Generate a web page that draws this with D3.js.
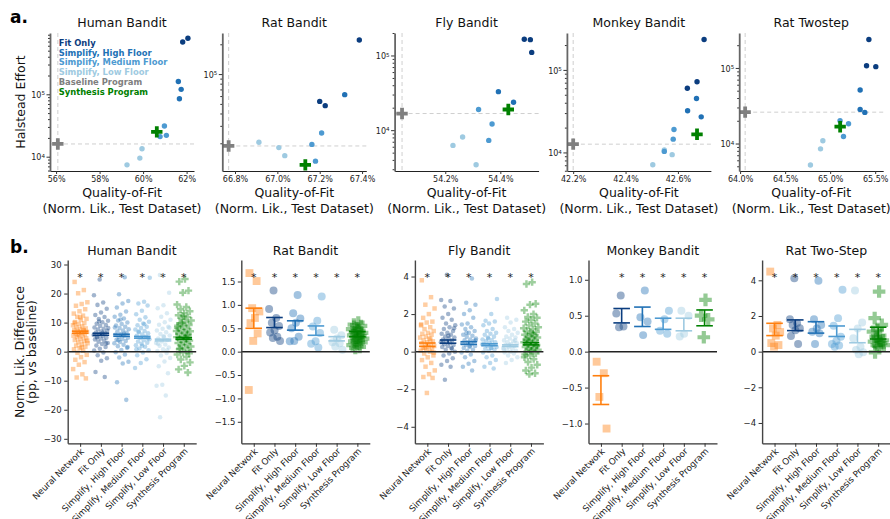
<!DOCTYPE html>
<html>
<head>
<meta charset="utf-8">
<script src="https://cdn.jsdelivr.net/npm/d3@7"></script>
<style>
  body { margin: 0; background: #fff; }
  svg { font-family: "DejaVu Sans", sans-serif; }
</style>
</head>
<body>
<svg id="fig" width="890" height="519"></svg>
<script>
// ---------- panel a: quality-of-fit vs Halstead effort ----------
// rows: [group, quality (%), halstead effort]
const humanEffort = [
  ['fit', 62.06, 790000], ['fit', 61.82, 690000],
  ['high', 61.62, 160000], ['high', 61.75, 120000], ['high', 61.67, 85000],
  ['med', 60.98, 31000], ['med', 61.07, 22000], ['med', 60.78, 21000],
  ['low', 59.95, 13400], ['low', 59.85, 9500], ['low', 59.26, 7400]
];
const ratEffort = [
  ['fit', 67.387, 221000], ['fit', 67.20, 53000], ['fit', 67.226, 48000],
  ['high', 67.318, 62000],
  ['med', 67.209, 25400], ['med', 67.163, 19500], ['med', 67.18, 13200],
  ['low', 66.913, 20500], ['low', 67.007, 18100], ['low', 67.035, 15000]
];
const flyEffort = [
  ['fit', 54.487, 165000], ['fit', 54.509, 163000], ['fit', 54.514, 110000],
  ['high', 54.393, 32800], ['high', 54.448, 23600],
  ['med', 54.321, 18900], ['med', 54.37, 12100], ['med', 54.358, 7300],
  ['low', 54.228, 6250], ['low', 54.263, 8100], ['low', 54.312, 3450]
];
const monkeyEffort = [
  ['fit', 42.70, 234000], ['fit', 42.673, 72000], ['fit', 42.636, 60000],
  ['high', 42.671, 45000], ['high', 42.637, 32000], ['high', 42.689, 27000],
  ['low', 42.504, 7100], ['low', 42.578, 9400], ['low', 42.548, 10700],
  ['med', 42.585, 19000], ['med', 42.582, 14500], ['med', 42.548, 10300]
];
const twostepEffort = [
  ['fit', 65.43, 238000], ['fit', 65.404, 107000], ['fit', 65.507, 104000],
  ['high', 65.333, 51000], ['high', 65.333, 28300], ['high', 65.385, 25800],
  ['med', 65.11, 20000], ['med', 65.204, 18300], ['med', 65.148, 12400],
  ['low', 64.919, 10900], ['low', 64.893, 8500], ['low', 64.781, 5200]
];
// [quality, effort] of the baseline and the synthesis programs
const baselinePrograms = [[56.08, 16000], [66.77, 18800], [54.043, 16700], [42.2, 12600], [64.056, 26000]];
const synthesisPrograms = [[60.63, 25000], [67.132, 12100], [54.429, 18900], [42.673, 16600], [65.111, 16700]];
const topTitles = ['Human Bandit', 'Rat Bandit', 'Fly Bandit', 'Monkey Bandit', 'Rat Twostep'];
const topXDomains = [[55.72, 62.34], [66.74, 67.42], [54.016, 54.539], [42.176, 42.726], [63.99, 65.589]];
const topYDomains = [[5900, 960000], [10500, 260000], [2840, 200000], [5960, 280000], [4330, 290000]];
const topXTicks = [[56, 58, 60, 62], [66.8, 67.0, 67.2, 67.4], [54.2, 54.4], [42.2, 42.4, 42.6], [64.0, 64.5, 65.0, 65.5]];
const topXDecimals = [0, 1, 1, 1, 1];
const legendLabels = ['Fit Only', 'Simplify, High Floor', 'Simplify, Medium Floor', 'Simplify, Low Floor', 'Baseline Program', 'Synthesis Program'];

// ---------- panel b: normalized likelihood difference ----------
const categories = ['Neural Network', 'Fit Only', 'Simplify, High Floor', 'Simplify, Medium Floor', 'Simplify, Low Floor', 'Synthesis Program'];
const bottomTitles = ['Human Bandit', 'Rat Bandit', 'Fly Bandit', 'Monkey Bandit', 'Rat Two-Step'];

const humanDiffs = [
  [24.0, 21.2, 20.1, 17.0, 16.4, 15.8, 14.6, 13.9, 13.1, 12.4, 12.0, 11.3, 10.9, 10.2, 9.8, 9.5, 9.1, 8.7, 8.4, 8.0, 7.8, 7.5, 7.2, 7.0, 6.8, 6.5, 6.3, 6.0, 5.7, 5.5, 5.2, 4.9, 4.6, 4.3, 4.0, 3.6, 3.2, 2.9, 2.5, 2.1, 1.7, 1.2, 0.8, 0.3, -0.4, -1.1, -1.9, -2.8, -3.6, -4.5, -6.0, -7.8, -8.9, -9.2, 11.8, 9.9, 7.4, 5.9, 3.8, 1.5],
  [24.8, 19.4, 16.9, 16.1, 14.8, 13.5, 12.6, 11.9, 11.2, 10.6, 10.1, 9.6, 9.2, 8.8, 8.3, 7.9, 7.6, 7.2, 6.9, 6.6, 6.3, 6.0, 5.7, 5.4, 5.1, 4.8, 4.5, 4.2, 3.8, 3.4, 3.0, 2.6, 2.1, 1.6, 1.0, 0.4, -0.3, -1.2, -2.3, -3.1, -7.0, -8.7, 10.4, 8.1, 6.4, 4.9, 2.8],
  [25.6, 19.8, 17.4, 16.6, 15.2, 13.8, 12.7, 12.0, 11.4, 10.7, 10.0, 9.5, 9.0, 8.6, 8.1, 7.7, 7.3, 6.9, 6.5, 6.1, 5.8, 5.5, 5.1, 4.8, 4.4, 4.1, 3.7, 3.3, 2.9, 2.4, 1.9, 1.3, 0.6, -0.2, -1.0, -2.0, -3.5, -4.1, -10.5, -16.6, 11.1, 8.3, 6.2, 3.9, 1.6],
  [25.4, 17.2, 16.6, 15.9, 14.1, 12.9, 11.8, 11.0, 10.3, 9.7, 9.1, 8.6, 8.1, 7.6, 7.1, 6.7, 6.3, 5.9, 5.5, 5.1, 4.7, 4.3, 3.9, 3.5, 3.1, 2.7, 2.2, 1.7, 1.1, 0.5, -0.3, -1.2, -2.6, -3.9, -5.6, 9.4, 6.9, 4.5, 2.0, 0.8],
  [26.4, 20.3, 16.0, 14.9, 13.2, 12.0, 11.0, 10.1, 9.3, 8.6, 7.9, 7.3, 6.7, 6.1, 5.6, 5.0, 4.5, 4.0, 3.5, 3.0, 2.5, 2.0, 1.4, 0.8, 0.2, -0.5, -1.3, -2.2, -3.4, -5.0, -7.4, -11.4, -11.7, -15.1, -22.6, 8.2, 5.3, 2.7, 0.5],
  [25.0, 24.1, 21.0, 20.3, 16.2, 15.4, 14.6, 13.9, 13.2, 12.5, 11.9, 11.3, 10.7, 10.2, 9.7, 9.2, 8.7, 8.2, 7.8, 7.4, 7.0, 6.6, 6.2, 5.8, 5.4, 5.0, 4.6, 4.2, 3.8, 3.4, 3.0, 2.6, 2.2, 1.8, 1.3, 0.8, 0.3, -0.3, -1.0, -1.8, -2.7, -3.7, -4.9, -6.1, -7.2, 9.9, 7.1, 4.4, 1.1, -0.6, 12.2, 8.9, 5.6]
];
const humanLo = [6.35, 5.65, 5.3, 4.65, 3.7, 4.3];
const humanHi = [7.05, 6.35, 6.0, 5.25, 4.3, 4.9];

const ratDiffs = [
  [1.68, 1.51, 0.93, 0.86, 0.72, 0.61, 0.39, 0.23, -0.82],
  [1.31, 0.91, 0.72, 0.62, 0.55, 0.46, 0.41, 0.32, 0.29, 0.23],
  [1.21, 0.82, 0.71, 0.62, 0.50, 0.32, 0.23, 0.22],
  [1.18, 0.66, 0.54, 0.40, 0.22, 0.17, 0.09],
  [0.47, 0.35, 0.28, 0.20, 0.18, 0.11, 0.04],
  [0.62, 0.58, 0.55, 0.50, 0.48, 0.45, 0.42, 0.40, 0.38, 0.35, 0.33, 0.30, 0.28, 0.25, 0.22, 0.20, 0.17, 0.14, 0.10, 0.08]
];
const ratLo = [0.50, 0.515, 0.46, 0.35, 0.23, 0.32];
const ratHi = [0.93, 0.73, 0.66, 0.55, 0.32, 0.43];

const flyDiffs = [
  [3.8, 2.9, 2.5, 2.3, 2.0, 1.8, 1.6, 1.55, 1.4, 1.3, 1.2, 1.1, 1.0, 0.95, 0.9, 0.8, 0.75, 0.7, 0.6, 0.55, 0.5, 0.45, 0.4, 0.35, 0.3, 0.25, 0.2, 0.15, 0.1, 0.05, 0.0, -0.1, -0.2, -0.3, -0.45, -0.6, -0.8, -1.0, -1.2, -1.35, -1.4, -2.2, 1.45, 0.65, 0.2, -0.05],
  [4.1, 2.75, 2.7, 2.4, 2.3, 2.0, 1.8, 1.7, 1.5, 1.4, 1.3, 1.2, 1.1, 1.0, 0.95, 0.9, 0.8, 0.75, 0.7, 0.65, 0.6, 0.55, 0.5, 0.45, 0.4, 0.35, 0.3, 0.25, 0.2, 0.1, 0.0, -0.1, -0.2, -0.35, -0.5, -0.7, -0.8, -1.5, 1.25, 0.85, 0.5, 0.15],
  [3.9, 2.6, 2.5, 2.2, 2.0, 1.8, 1.5, 1.45, 1.3, 1.2, 1.1, 1.0, 0.9, 0.85, 0.8, 0.7, 0.65, 0.6, 0.55, 0.5, 0.45, 0.4, 0.35, 0.3, 0.25, 0.2, 0.1, 0.05, -0.05, -0.15, -0.3, -0.5, -0.65, -0.8, -1.0, 1.0, 0.6, 0.3],
  [2.8, 2.0, 1.65, 1.6, 1.5, 1.4, 1.2, 1.1, 1.0, 0.95, 0.9, 0.8, 0.7, 0.65, 0.6, 0.55, 0.5, 0.45, 0.4, 0.35, 0.3, 0.25, 0.2, 0.15, 0.1, 0.05, -0.05, -0.2, -0.3, -0.45, -0.6, -0.8, -0.9, 0.75, 0.4, 0.2],
  [1.8, 1.7, 1.55, 1.3, 1.2, 1.1, 1.0, 0.9, 0.8, 0.75, 0.7, 0.6, 0.55, 0.5, 0.45, 0.4, 0.35, 0.3, 0.25, 0.2, 0.15, 0.1, 0.05, 0.0, -0.05, -0.1, -0.2, -0.3, -0.45, -0.6, 0.6, 0.35, 0.1],
  [3.7, 3.6, 2.55, 2.5, 2.2, 2.0, 1.85, 1.8, 1.7, 1.6, 1.5, 1.4, 1.3, 1.2, 1.1, 1.05, 1.0, 0.9, 0.85, 0.8, 0.75, 0.7, 0.65, 0.6, 0.55, 0.5, 0.45, 0.4, 0.35, 0.3, 0.25, 0.2, 0.15, 0.1, 0.05, 0.0, -0.1, -0.2, -0.3, -0.4, -0.55, -0.7, -0.85, -1.0, -1.15, -1.2, 1.25, 0.95, 0.6, 0.3, 0.05, -0.15]
];
const flyLo = [0.28, 0.45, 0.39, 0.32, 0.27, 0.36];
const flyHi = [0.46, 0.62, 0.53, 0.42, 0.36, 0.48];

const monkeyDiffs = [
  [-0.14, -0.30, -0.63, -1.07],
  [0.78, 0.53, 0.35, 0.34],
  [0.85, 0.48, 0.42, 0.23],
  [0.57, 0.45, 0.29, 0.25],
  [0.57, 0.50, 0.25, 0.21],
  [0.72, 0.50, 0.45, 0.20]
];
const monkeyLo = [-0.735, 0.40, 0.35, 0.31, 0.29, 0.36];
const monkeyHi = [-0.335, 0.60, 0.62, 0.465, 0.465, 0.58];

const twostepDiffs = [
  [4.49, 1.5, 1.3, 1.1, 0.9, 0.48, 0.37, 0.28],
  [4.12, 1.82, 1.6, 1.5, 1.31, 1.2, 0.88, 0.43],
  [3.97, 1.82, 1.5, 1.3, 1.12, 1.03, 0.43],
  [3.47, 1.88, 1.45, 0.84, 0.6, 0.43, 0.34, 0.28],
  [3.43, 1.64, 1.3, 0.75, 0.28, 0.1, -0.04, -0.15],
  [3.37, 1.88, 1.5, 1.2, 1.12, 0.9, 0.84, 0.63, 0.6, 0.56, 0.48, 0.37, 0.37, 0.28, -0.04]
];
const twostepLo = [0.9, 1.18, 1.04, 0.85, 0.5, 0.71];
const twostepHi = [1.59, 1.78, 1.68, 1.44, 1.25, 1.37];

// significance stars (1 = shown)
const humanStars = [1, 1, 1, 1, 1, 1];
const ratStars = [1, 1, 1, 1, 1, 1];
const flyStars = [1, 1, 1, 1, 1, 1];
const monkeyStars = [0, 1, 1, 1, 1, 1];
const twostepStars = [1, 1, 1, 1, 1, 1];

const bottomYMax = [31.55, 1.96, 4.88, 1.275, 5.14];
const bottomYTicks = [
  [-30, -20, -10, 0, 10, 20, 30],
  [-1.5, -1.0, -0.5, 0, 0.5, 1.0, 1.5],
  [-4, -2, 0, 2, 4],
  [-1.0, -0.5, 0, 0.5, 1.0],
  [-4, -2, 0, 2, 4]
];
const bottomYFormats = ['d', '.1f', 'd', '.1f', 'd'];

// ---------- styles ----------
const groupColor = { fit: '#0b3d7f', high: '#2171b5', med: '#4d9ad1', low: '#9ecae1' };
const legendColors = ['#0b3d7f', '#2171b5', '#4d9ad1', '#9ecae1', '#808080', '#008000'];
const catColors = ['#ff7f0e', '#0b3d7f', '#2171b5', '#4d9ad1', '#9ecae1', '#008000'];
const catSymbols = [d3.symbolSquare, d3.symbolCircle, d3.symbolCircle, d3.symbolCircle, d3.symbolCircle, d3.symbolCross];

const svg = d3.select('#fig');

svg.append('text').attr('x', 10).attr('y', 23).attr('font-size', 17).attr('font-weight', 'bold').text('a.');
svg.append('text').attr('x', 10).attr('y', 253).attr('font-size', 17).attr('font-weight', 'bold').text('b.');

function styleAxis(a, size) {
  a.attr('font-family', null).attr('font-size', size);
  a.selectAll('text').attr('fill', '#222');
  a.selectAll('line').attr('stroke', '#333');
}

// ---------- top row ----------
const topW = 144, topH = 138, topT = 33;
const effortSets = [humanEffort, ratEffort, flyEffort, monkeyEffort, twostepEffort];

effortSets.forEach((pts, i) => {
  const L = 50 + i * 172.3;
  const g = svg.append('g').attr('transform', `translate(${L},${topT})`);
  const x = d3.scaleLinear().domain(topXDomains[i]).range([0, topW]);
  const y = d3.scaleLog().domain(topYDomains[i]).range([topH, 0]);
  const base = baselinePrograms[i], syn = synthesisPrograms[i];

  g.append('text').attr('x', topW / 2).attr('y', -6).attr('text-anchor', 'middle')
    .attr('font-size', 12.5).attr('fill', '#111').text(topTitles[i]);

  // baseline reference lines
  g.append('line').attr('x1', x(base[0])).attr('x2', x(base[0])).attr('y1', 0).attr('y2', topH)
    .attr('stroke', '#cfcfcf').attr('stroke-width', 1).attr('stroke-dasharray', '4,3');
  g.append('line').attr('x1', 0).attr('x2', topW).attr('y1', y(base[1])).attr('y2', y(base[1]))
    .attr('stroke', '#cfcfcf').attr('stroke-width', 1).attr('stroke-dasharray', '4,3');

  g.selectAll('circle.pt').data(pts).enter().append('circle')
    .attr('class', 'pt')
    .attr('cx', d => x(d[1])).attr('cy', d => y(d[2])).attr('r', 2.7)
    .attr('fill', d => groupColor[d[0]]);

  const cross = d3.symbol().type(d3.symbolCross).size(72);
  g.append('path').attr('d', cross()).attr('fill', '#808080')
    .attr('transform', `translate(${x(base[0])},${y(base[1])})`);
  g.append('path').attr('d', cross()).attr('fill', '#008000')
    .attr('transform', `translate(${x(syn[0])},${y(syn[1])})`);

  // x axis
  const dec = topXDecimals[i];
  const xa = g.append('g').attr('transform', `translate(0,${topH})`)
    .call(d3.axisBottom(x).tickValues(topXTicks[i]).tickFormat(d => d.toFixed(dec) + '%').tickSize(3).tickSizeOuter(0).tickPadding(2.5));
  styleAxis(xa, 8);
  xa.select('.domain').attr('stroke', '#222').attr('stroke-width', 1);

  // y axis (log with minor ticks)
  const [d0, d1] = topYDomains[i];
  const major = [], minor = [];
  for (let p = Math.floor(Math.log10(d0)); p <= Math.ceil(Math.log10(d1)); p++) {
    for (let k = 1; k < 10; k++) {
      const v = k * Math.pow(10, p);
      if (v < d0 || v > d1) continue;
      (k === 1 ? major : minor).push(v);
    }
  }
  const ym = g.append('g').call(d3.axisLeft(y).tickValues(minor).tickFormat('').tickSize(2).tickSizeOuter(0));
  styleAxis(ym, 8);
  ym.select('.domain').remove();
  const ya = g.append('g').call(d3.axisLeft(y).tickValues(major).tickFormat('').tickSize(3.5).tickSizeOuter(0));
  styleAxis(ya, 8);
  ya.select('.domain').attr('stroke', '#666').attr('stroke-width', 1.8);
  ya.selectAll('.tick').each(function (d) {
    const t = d3.select(this).select('text').attr('x', -5).attr('dy', '0.4em').text('10');
    t.append('tspan').attr('dy', '-0.45em').attr('font-size', 5.6).text(Math.round(Math.log10(d)));
  });

  g.append('text').attr('x', topW / 2).attr('y', topH + 26).attr('text-anchor', 'middle')
    .attr('font-size', 12.5).attr('fill', '#111').text('Quality-of-Fit');
  g.append('text').attr('x', topW / 2).attr('y', topH + 42).attr('text-anchor', 'middle')
    .attr('font-size', 12.5).attr('fill', '#111').text('(Norm. Lik., Test Dataset)');

  if (i === 0) {
    g.selectAll('text.leg').data(legendLabels).enter().append('text')
      .attr('class', 'leg')
      .attr('x', 8.7).attr('y', (d, k) => 12.7 + k * 9.8)
      .attr('font-size', 8.4).attr('font-weight', 'bold')
      .attr('fill', (d, k) => legendColors[k]).text(d => d);
  }
});

svg.append('text').attr('transform', 'translate(25,102) rotate(-90)').attr('text-anchor', 'middle')
  .attr('font-size', 12.5).attr('fill', '#111').text('Halstead Effort');

// ---------- bottom row ----------
const botW = 128.5, botH = 183.3, botT = 260;
const diffSets = [humanDiffs, ratDiffs, flyDiffs, monkeyDiffs, twostepDiffs];
const loSets = [humanLo, ratLo, flyLo, monkeyLo, twostepLo];
const hiSets = [humanHi, ratHi, flyHi, monkeyHi, twostepHi];
const starSets = [humanStars, ratStars, flyStars, monkeyStars, twostepStars];
const dense = [true, false, true, false, false];

diffSets.forEach((sets, i) => {
  const L = 67.7 + i * 173.6;
  const g = svg.append('g').attr('transform', `translate(${L},${botT})`);
  const x = d3.scalePoint().domain(categories).range([0, botW]).padding(0.6);
  const y = d3.scaleLinear().domain([-bottomYMax[i], bottomYMax[i]]).range([botH, 0]);
  const step = x.step();

  g.append('text').attr('x', botW / 2).attr('y', -5).attr('text-anchor', 'middle')
    .attr('font-size', 12.5).attr('fill', '#111').text(bottomTitles[i]);

  const sz = dense[i] ? [20, 16, 30] : [62, 50, 88];
  const amp = dense[i] ? 0.36 : 0.28;
  const opac = dense[i] ? 0.38 : 0.42;

  sets.forEach((vals, c) => {
    const sizeK = c === 0 ? sz[0] : (c === 5 ? sz[2] : sz[1]);
    const sym = d3.symbol().type(catSymbols[c]).size(sizeK);
    const cx = x(categories[c]);
    g.selectAll(null).data(vals).enter().append('path')
      .attr('d', sym())
      .attr('transform', (d, k) => {
        const j = ((k * 0.618034 + c * 0.29 + 0.13) % 1) - 0.5;
        return `translate(${cx + j * 2 * amp * step},${y(d)})`;
      })
      .attr('fill', catColors[c]).attr('fill-opacity', opac);
  });

  // zero line
  g.append('line').attr('x1', 0).attr('x2', botW).attr('y1', y(0)).attr('y2', y(0))
    .attr('stroke', '#222').attr('stroke-width', 1.5);

  // error bars
  const lo = loSets[i], hi = hiSets[i];
  categories.forEach((cat, c) => {
    const cx = x(cat), hw = 0.4 * step;
    const eb = g.append('g').attr('stroke', catColors[c]).attr('stroke-width', 1.6);
    eb.append('line').attr('x1', cx).attr('x2', cx).attr('y1', y(lo[c])).attr('y2', y(hi[c]));
    eb.append('line').attr('x1', cx - hw).attr('x2', cx + hw).attr('y1', y(lo[c])).attr('y2', y(lo[c]));
    eb.append('line').attr('x1', cx - hw).attr('x2', cx + hw).attr('y1', y(hi[c])).attr('y2', y(hi[c]));
  });

  // significance stars
  g.selectAll('text.star').data(categories.filter((c, k) => starSets[i][k])).enter().append('text')
    .attr('class', 'star')
    .attr('x', d => x(d)).attr('y', y(0.84 * bottomYMax[i]) + 6.5)
    .attr('text-anchor', 'middle').attr('font-size', 11).attr('fill', '#222').text('*');

  // axes
  const ya = g.append('g').call(d3.axisLeft(y).tickValues(bottomYTicks[i]).tickFormat(d3.format(bottomYFormats[i])).tickSize(3.5).tickSizeOuter(0).tickPadding(2.5));
  styleAxis(ya, 8.5);
  ya.select('.domain').attr('stroke', '#444').attr('stroke-width', 1.4);

  const xa = g.append('g').attr('transform', `translate(0,${botH})`)
    .call(d3.axisBottom(x).tickSize(3.5).tickSizeOuter(0));
  styleAxis(xa, 8.8);
  xa.select('.domain').attr('stroke', '#333').attr('stroke-width', 1.2);
  xa.selectAll('.tick text')
    .attr('text-anchor', 'end')
    .attr('x', 0).attr('y', 0).attr('dy', 0)
    .attr('transform', 'translate(4,8.5) rotate(-45)');
});

const yl = svg.append('text').attr('transform', 'translate(0,352) rotate(-90)').attr('text-anchor', 'middle')
  .attr('font-size', 12.5).attr('fill', '#111');
yl.append('tspan').attr('x', 0).attr('y', 24).text('Norm. Lik. Difference');
yl.append('tspan').attr('x', 0).attr('y', 36).text('(pp, vs baseline)');
</script>
</body>
</html>
